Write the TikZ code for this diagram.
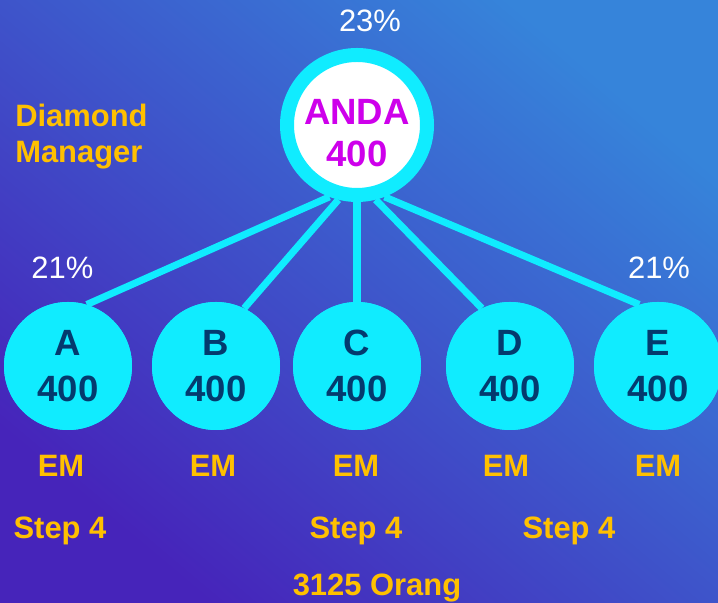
\documentclass[tikz,border=0pt]{standalone}
\usepackage{fontspec}
\setmainfont{Liberation Sans}
\usepackage{tikz}
\definecolor{bgpurple}{RGB}{70, 36, 186}
\definecolor{bgblue}{RGB}{54, 132, 218}
\definecolor{aqua}{RGB}{16, 236, 255}
\definecolor{navy}{RGB}{4, 58, 110}
\definecolor{orchid}{RGB}{206, 0, 235}
\definecolor{amber}{RGB}{255, 192, 0}
\tikzset{
  member/.style={circle, fill=aqua, minimum size=3.2cm, inner sep=0pt, align=center,
                 text=navy, font=\fontsize{26}{33}\selectfont\bfseries},
  link/.style={draw=aqua, line width=5pt},
  goldtext/.style={text=amber, font=\fontsize{22}{26}\selectfont\bfseries, inner sep=0pt},
  pcttext/.style={text=white, font=\fontsize{22}{26}\selectfont, inner sep=0pt, anchor=base}
}
\begin{document}
\begin{tikzpicture}
            \clip (0.00, 0.00) rectangle (17.95, 15.075);
            \shade[bottom color=bgpurple, top color=bgblue, shading angle=-40] (0.00, 0.00) rectangle (17.95, 15.075);
            % upline
            \node[circle, draw=aqua, line width=0.35cm, fill=white, minimum size=3.5cm, inner sep=0pt, align=center,
                  text=orchid, font=\fontsize{26}{31}\selectfont\bfseries] (anda) at ( 8.925, 11.95) {\rule{0pt}{29pt}ANDA\\[-1pt]400};
            % downlines
            \node[member] (a) at ( 1.70, 5.925) {A\\400};
            \node[member] (b) at ( 5.40, 5.925) {B\\400};
            \node[member] (c) at ( 8.925,5.925) {C\\400};
            \node[member] (d) at (12.75, 5.925) {D\\400};
            \node[member] (e) at (16.45, 5.925) {E\\400};
            \draw[link] (anda.249) -- (a.73);
            \draw[link] (anda.256) -- (b.64);
            \draw[link] (anda.270) -- (c.90);
            \draw[link] (anda.284) -- (d.116);
            \draw[link] (anda.291) -- (e.107);
            % redraw circles over the links
            \node[member] at (a) {A\\400};
            \node[member] at (b) {B\\400};
            \node[member] at (c) {C\\400};
            \node[member] at (d) {D\\400};
            \node[member] at (e) {E\\400};
            % percentages
            \node[pcttext] (pctanda) at ( 9.25, 14.275) {23\%};
            \node[pcttext] (pcta)    at ( 1.56,  8.10)  {21\%};
            \node[pcttext] (pcte)    at (16.475, 8.10)  {21\%};
            % ranks
            \node[goldtext, anchor=base west, align=left] (rank) at (0.375, 11.00) {Diamond\\Manager};
            \node[goldtext, anchor=base] (ema) at ( 1.525, 3.15) {EM};
            \node[goldtext, anchor=base] (emb) at ( 5.325, 3.15) {EM};
            \node[goldtext, anchor=base] (emc) at ( 8.90,  3.15) {EM};
            \node[goldtext, anchor=base] (emd) at (12.65,  3.15) {EM};
            \node[goldtext, anchor=base] (eme) at (16.45,  3.15) {EM};
            \node[goldtext, anchor=base] (stepa) at ( 1.50,  1.60) {Step 4};
            \node[goldtext, anchor=base] (stepc) at ( 8.90,  1.60) {Step 4};
            \node[goldtext, anchor=base] (stepd) at (14.225, 1.60) {Step 4};
            \node[goldtext, anchor=base] (total) at ( 9.425, 0.175) {3125 Orang};
            \end{tikzpicture}
\end{document}
